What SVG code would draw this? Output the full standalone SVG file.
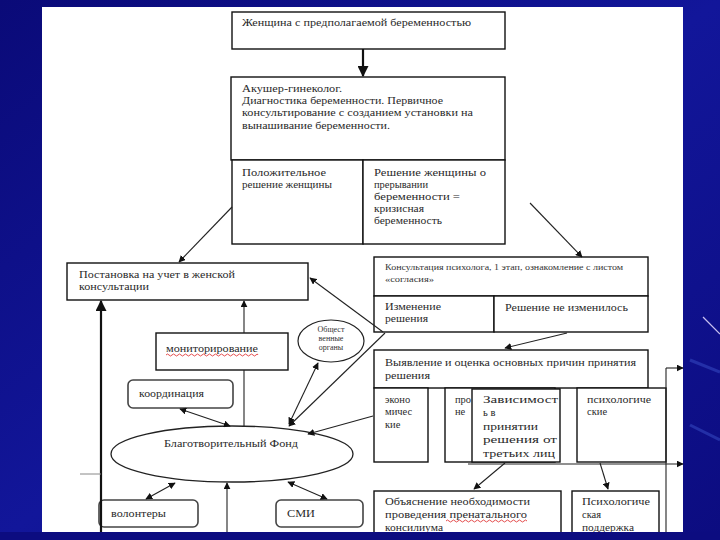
<svg xmlns="http://www.w3.org/2000/svg" width="720" height="540" viewBox="0 0 720 540">
<defs>
<linearGradient id="bg" x1="0" y1="0" x2="1" y2="1">
<stop offset="0" stop-color="#0a0a78"/>
<stop offset="0.5" stop-color="#12169a"/>
<stop offset="1" stop-color="#0c0c80"/>
</linearGradient>
<marker id="ah" viewBox="0 0 10 10" refX="9" refY="5" markerWidth="7" markerHeight="7" markerUnits="userSpaceOnUse" orient="auto-start-reverse">
<path d="M0,0 L10,5 L0,10 z" fill="#111"/>
</marker>
<marker id="ahb" viewBox="0 0 10 10" refX="9" refY="5" markerWidth="5" markerHeight="5" orient="auto-start-reverse">
<path d="M0,0 L10,5 L0,10 z" fill="#111"/>
</marker>
<style>
.box{fill:#fff;stroke:#111;stroke-width:1.4}
.rbox{fill:#fff;stroke:#444;stroke-width:1.6}
.ln{fill:none;stroke:#222;stroke-width:1.1}
.gl{fill:none;stroke:#888;stroke-width:1}
.th{fill:none;stroke:#111;stroke-width:2.2}
.t{font-family:"Liberation Serif","Times New Roman",serif;font-size:10.5px;fill:#2a2a2a}
.s{font-family:"Liberation Serif","Times New Roman",serif;font-size:8px;fill:#333}
.wv{fill:none;stroke:#d22;stroke-width:0.8}
</style>
</defs>
<rect x="0" y="0" width="720" height="540" fill="url(#bg)"/>
<line x1="703" y1="317" x2="720" y2="334" stroke="#c8c0f0" stroke-width="1.2"/>
<line x1="690" y1="360" x2="720" y2="372" stroke="#3a50c8" stroke-width="3" opacity="0.5"/>
<line x1="690" y1="425" x2="720" y2="440" stroke="#3a50c8" stroke-width="3" opacity="0.5"/>
<rect x="42" y="7" width="641" height="525" fill="#fff"/>

<g id="n1"><rect class="box" x="232" y="12" width="273" height="37"/>
<text class="t" x="242" y="26" font-size="11.5" textLength="229" lengthAdjust="spacingAndGlyphs">Женщина с предполагаемой беременностью</text></g>

<g id="n2"><rect class="box" x="231" y="77" width="274" height="83"/>
<text class="t" x="242" y="91.5" font-size="12" textLength="100" lengthAdjust="spacingAndGlyphs">Акушер-гинеколог.</text>
<text class="t" x="242" y="104" textLength="201" lengthAdjust="spacingAndGlyphs">Диагностика беременности. Первичное</text>
<text class="t" x="242" y="116" textLength="231" lengthAdjust="spacingAndGlyphs">консультирование с созданием установки на</text>
<text class="t" x="242" y="128.5" textLength="148" lengthAdjust="spacingAndGlyphs">вынашивание беременности.</text></g>

<g id="n3"><rect class="box" x="232" y="160" width="131" height="84"/>
<text class="t" x="242" y="176" textLength="84" lengthAdjust="spacingAndGlyphs">Положительное</text>
<text class="t" x="242" y="188" textLength="90" lengthAdjust="spacingAndGlyphs">решение женщины</text></g>

<g id="n4"><rect class="box" x="363" y="160" width="142" height="84"/>
<text class="t" x="374" y="176" textLength="112" lengthAdjust="spacingAndGlyphs">Решение женщины о</text>
<text class="t" x="374" y="188" textLength="54" lengthAdjust="spacingAndGlyphs">прерывании</text>
<text class="t" x="374" y="200" textLength="86" lengthAdjust="spacingAndGlyphs">беременности =</text>
<text class="t" x="374" y="212" textLength="50" lengthAdjust="spacingAndGlyphs">кризисная</text>
<text class="t" x="374" y="224" textLength="68" lengthAdjust="spacingAndGlyphs">беременность</text></g>

<g id="n5"><rect class="box" x="67" y="263" width="241" height="37"/>
<text class="t" x="79" y="278" textLength="156" lengthAdjust="spacingAndGlyphs">Постановка на учет в женской</text>
<text class="t" x="79" y="290" textLength="70" lengthAdjust="spacingAndGlyphs">консультации</text></g>

<g id="n6"><rect class="box" x="374" y="257" width="274" height="39"/>
<text class="s" x="385" y="270" textLength="238" lengthAdjust="spacingAndGlyphs">Консультация психолога, 1 этап, ознакомление с листом</text>
<text class="s" x="385" y="282" textLength="49" lengthAdjust="spacingAndGlyphs">«согласия»</text></g>

<g id="n7"><rect class="box" x="374" y="296" width="120" height="36"/>
<text class="t" x="385" y="310" textLength="56" lengthAdjust="spacingAndGlyphs">Изменение</text>
<text class="t" x="385" y="322" textLength="43" lengthAdjust="spacingAndGlyphs">решения</text></g>

<g id="n8"><rect class="box" x="494" y="296" width="154" height="36"/>
<text class="t" x="505" y="311" textLength="123" lengthAdjust="spacingAndGlyphs">Решение не изменилось</text></g>

<g id="n9"><ellipse cx="331" cy="341" rx="33" ry="21" fill="#fff" stroke="#222" stroke-width="1.2"/>
<text class="s" x="331" y="332" text-anchor="middle">Общест</text>
<text class="s" x="331" y="341" text-anchor="middle">венные</text>
<text class="s" x="331" y="350" text-anchor="middle">органы</text></g>

<g id="n10"><rect class="box" x="156" y="333" width="132" height="37"/>
<text class="t" x="166" y="352" textLength="92" lengthAdjust="spacingAndGlyphs">мониторирование</text>
<path class="wv" d="M166,355 q1.5,-2 3,0 t3,0 t3,0 t3,0 t3,0 t3,0 t3,0 t3,0 t3,0 t3,0 t3,0 t3,0 t3,0 t3,0 t3,0 t3,0 t3,0 t3,0 t3,0 t3,0 t3,0 t3,0 t3,0 t3,0 t3,0 t3,0 t3,0 t3,0 t3,0 t3,0 t2,0"/></g>

<g id="n11"><rect class="rbox" x="128" y="380" width="105" height="28" rx="5"/>
<text class="t" x="139" y="397" textLength="65" lengthAdjust="spacingAndGlyphs">координация</text></g>

<g id="n12"><ellipse cx="232" cy="454" rx="121" ry="28" fill="#fff" stroke="#222" stroke-width="1.3"/>
<text class="t" x="164" y="447" textLength="134" lengthAdjust="spacingAndGlyphs">Благотворительный Фонд</text></g>

<g id="n13"><rect class="rbox" x="99" y="500" width="99" height="27" rx="5"/>
<text class="t" x="111" y="517" textLength="55" lengthAdjust="spacingAndGlyphs">волонтеры</text></g>

<g id="n14"><rect class="rbox" x="276" y="500" width="87" height="27" rx="5"/>
<text class="t" x="287" y="517" textLength="28" lengthAdjust="spacingAndGlyphs">СМИ</text></g>

<g id="n15"><rect class="box" x="374" y="350" width="274" height="38"/>
<text class="t" x="385" y="366" textLength="251" lengthAdjust="spacingAndGlyphs">Выявление и оценка основных причин принятия</text>
<text class="t" x="385" y="379" textLength="45" lengthAdjust="spacingAndGlyphs">решения</text></g>

<g id="n16"><rect class="box" x="374" y="388" width="54" height="74"/>
<text class="t" x="385" y="403">эконо</text>
<text class="t" x="385" y="415">мичес</text>
<text class="t" x="385" y="428">кие</text></g>

<g id="n17"><rect class="box" x="445" y="388" width="110" height="74"/>
<text class="t" x="455" y="403">про</text>
<text class="t" x="455" y="415">не</text></g>

<g id="n18"><rect class="box" x="472" y="389" width="88" height="73"/>
<text class="t" x="483" y="403" font-size="11.5" textLength="75" lengthAdjust="spacingAndGlyphs">Зависимост</text>
<text class="t" x="483" y="416" font-size="11.5">ь в</text>
<text class="t" x="483" y="430" font-size="11.5" textLength="55" lengthAdjust="spacingAndGlyphs">принятии</text>
<text class="t" x="483" y="443" font-size="11.5" textLength="74" lengthAdjust="spacingAndGlyphs">решения от</text>
<text class="t" x="483" y="457" font-size="11.5" textLength="72" lengthAdjust="spacingAndGlyphs">третьих лиц</text></g>

<g id="n19"><rect class="box" x="577" y="388" width="89" height="74"/>
<text class="t" x="587" y="403" textLength="64" lengthAdjust="spacingAndGlyphs">психологиче</text>
<text class="t" x="587" y="415">ские</text></g>

<g id="n20"><rect class="box" x="374" y="491" width="187" height="50"/>
<text class="t" x="385" y="505" textLength="145" lengthAdjust="spacingAndGlyphs">Объяснение необходимости</text>
<text class="t" x="385" y="518" textLength="142" lengthAdjust="spacingAndGlyphs">проведения пренатального</text>
<text class="t" x="385" y="531" textLength="58" lengthAdjust="spacingAndGlyphs">консилиума</text>
<path class="wv" d="M446,521 q1.5,-2 3,0 t3,0 t3,0 t3,0 t3,0 t3,0 t3,0 t3,0 t3,0 t3,0 t3,0 t3,0 t3,0 t3,0 t3,0 t3,0 t3,0 t3,0 t3,0 t3,0 t3,0 t3,0 t3,0 t3,0 t3,0 t3,0 t3,0"/></g>

<g id="n21"><rect class="box" x="572" y="491" width="87" height="50"/>
<text class="t" x="582" y="505" textLength="68" lengthAdjust="spacingAndGlyphs">Психологиче</text>
<text class="t" x="582" y="518">ская</text>
<text class="t" x="582" y="531" textLength="52" lengthAdjust="spacingAndGlyphs">поддержка</text></g>

<g id="connectors">
<line class="th" x1="363" y1="49" x2="363" y2="76" marker-end="url(#ahb)"/>
<line class="ln" x1="232" y1="207" x2="179" y2="262" marker-end="url(#ah)"/>
<line class="ln" x1="530" y1="203" x2="582" y2="257" marker-end="url(#ah)"/>
<line class="ln" x1="383" y1="332" x2="310" y2="278" marker-end="url(#ah)"/>
<line class="ln" x1="385" y1="333" x2="289" y2="426" marker-end="url(#ah)"/>
<line class="ln" x1="318" y1="363" x2="289" y2="424" marker-start="url(#ah)" marker-end="url(#ah)"/>
<line class="ln" x1="567" y1="333" x2="505" y2="348" marker-end="url(#ah)"/>
<line class="ln" x1="373" y1="416" x2="308" y2="434" marker-end="url(#ah)"/>
<line class="ln" x1="244" y1="333" x2="244" y2="301" marker-end="url(#ah)"/>
<line class="ln" x1="244" y1="370" x2="244" y2="426"/>
<line class="th" x1="101" y1="532" x2="101" y2="301" marker-end="url(#ahb)"/>
<line class="gl" x1="80" y1="474" x2="101" y2="474"/>
<line class="ln" x1="180" y1="409" x2="230" y2="426" marker-start="url(#ah)" marker-end="url(#ah)"/>
<line class="ln" x1="175" y1="483" x2="146" y2="499" marker-start="url(#ah)" marker-end="url(#ah)"/>
<line class="ln" x1="227" y1="532" x2="227" y2="483" marker-end="url(#ah)"/>
<line class="ln" x1="288" y1="482" x2="327" y2="499" marker-start="url(#ah)" marker-end="url(#ah)"/>
<line class="ln" x1="505" y1="463" x2="474" y2="489" marker-end="url(#ah)"/>
<line class="ln" x1="600" y1="463" x2="608" y2="489" marker-end="url(#ah)"/>
<line class="ln" x1="666" y1="368" x2="666" y2="532"/>
<line class="ln" x1="666" y1="368" x2="683" y2="368" marker-end="url(#ah)"/>
<line class="ln" x1="468" y1="464" x2="683" y2="464" marker-end="url(#ah)"/>
</g>
<rect x="0" y="532" width="720" height="8" fill="#0c0c80"/>
</svg>
